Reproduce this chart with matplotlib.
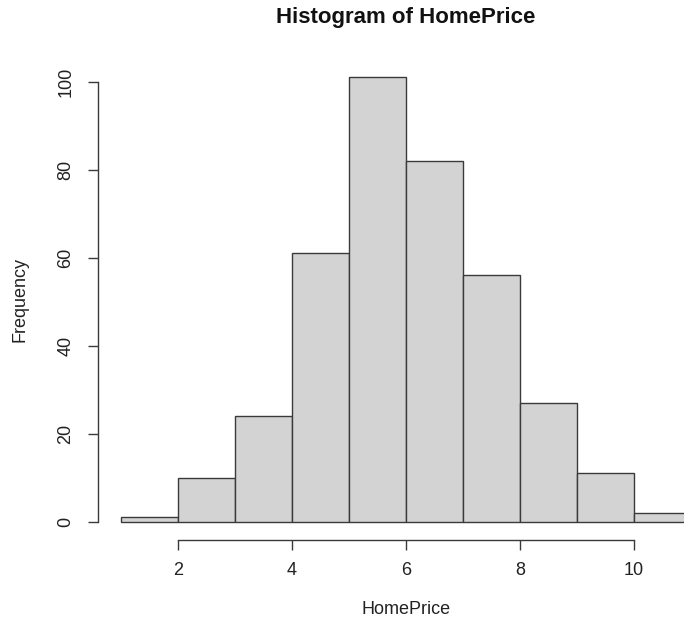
import matplotlib
matplotlib.use("Agg")
import matplotlib.pyplot as plt
import numpy as np

plt.rcParams["font.family"] = ["Liberation Sans", "DejaVu Sans"]

# histogram data
bin_edges = [1, 2, 3, 4, 5, 6, 7, 8, 9, 10, 11]
counts = [1, 10, 24, 61, 101, 82, 56, 27, 11, 2]
x_ticks = [2, 4, 6, 8, 10]
y_ticks = [0, 20, 40, 60, 80, 100]

W, H = 684, 618
fig = plt.figure(figsize=(W / 100, H / 100), dpi=100)

# R-style usr limits: range extended by 4%
xlo, xhi = 0.6, 11.4
ylo, yhi = -4.04, 105.04
left_px, right_px = 98.2, 713.8
top_px, bot_px = 59.5, 539.5
ax = fig.add_axes([left_px / W, 1 - bot_px / H,
                   (right_px - left_px) / W, (bot_px - top_px) / H])
ax.set_xlim(xlo, xhi)
ax.set_ylim(ylo, yhi)

ax.bar(bin_edges[:-1], counts, width=np.diff(bin_edges), align="edge",
       color="#d3d3d3", edgecolor="#3a3a3a", linewidth=1.0)

for s in ["top", "right"]:
    ax.spines[s].set_visible(False)
ax.spines["left"].set_bounds(0, 100)
ax.spines["bottom"].set_bounds(2, 10)
for s in ["left", "bottom"]:
    ax.spines[s].set_color("#3a3a3a")
    ax.spines[s].set_linewidth(1.0)

ax.set_xticks(x_ticks)
ax.set_yticks(y_ticks)
ax.tick_params(axis="both", direction="out", length=7.2, width=1.0,
               color="#3a3a3a", labelsize=13, labelcolor="#222222")
ax.tick_params(axis="x", pad=9)
ax.tick_params(axis="y", pad=10)
for lab in ax.get_yticklabels():
    lab.set_rotation(90)
    lab.set_va("center")

fig.text(406 / W, 1 - 18 / H, "Histogram of HomePrice", ha="center",
         va="center", fontsize=16, fontweight="bold", color="#111111")
fig.text(406 / W, 1 - 609 / H, "HomePrice", ha="center", va="center",
         fontsize=13, color="#222222")
fig.text(20 / W, 1 - 299.5 / H, "Frequency", ha="center", va="center",
         rotation=90, fontsize=13, color="#222222")

fig.savefig("out.png", dpi=100)
